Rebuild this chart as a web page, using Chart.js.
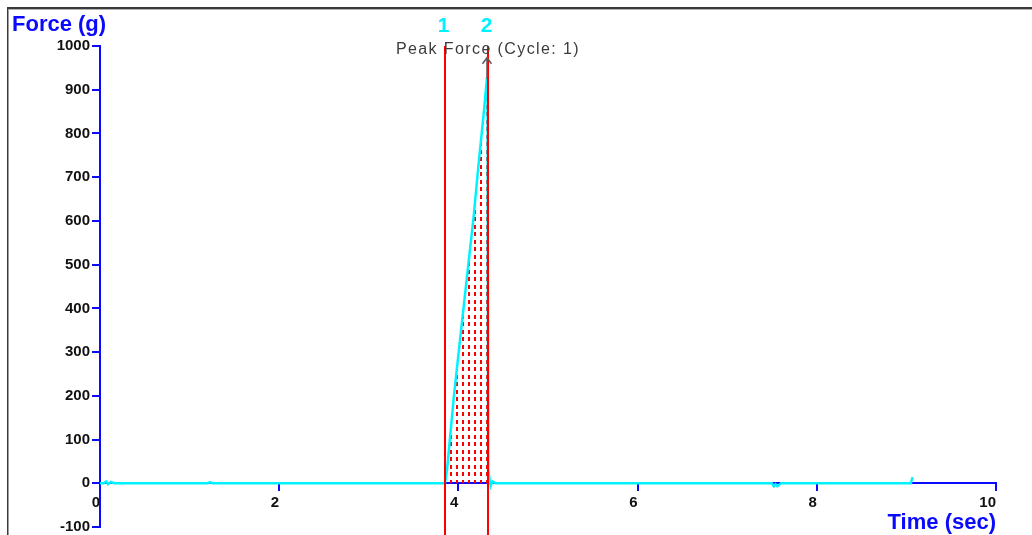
<!DOCTYPE html>
<html>
<head>
<meta charset="utf-8">
<script src="https://cdn.jsdelivr.net/npm/chart.js@4.4.1/dist/chart.umd.min.js"></script>
<style>
  html, body { margin: 0; padding: 0; background: #ffffff; overflow: hidden; }
  #wrap { width: 1032px; height: 535px; position: relative; }
</style>
</head>
<body>
<div id="wrap"><canvas id="forceChart" width="1032" height="535"></canvas></div>
<script>
// Force trace (g) against time (sec)
const timeSec = [0, 0.04, 0.07, 0.09, 0.12, 0.16, 1.2, 1.23, 1.26, 2.5, 3.0, 3.5, 3.85,
  3.873, 3.95, 4.03, 4.1, 4.17, 4.23, 4.28, 4.318, 4.325, 4.333, 4.345, 4.36, 4.38, 4.42,
  4.5, 5.0, 6.0, 7.0, 7.5, 7.52, 7.54, 7.56, 7.6, 8.0, 8.5, 9.0, 9.05, 9.06, 9.07];
const forceG = [0, 0, 4, -2, 3, 0, 0, 2, 0, 0, 0, 0, 0,
  30, 200, 350, 480, 610, 740, 840, 925, 925, 0, 14, -6, 4, 0,
  0, 0, 0, 0, 0, -7, -2, -7, 0, 0, 0, 0, 0, 8, 14];

// Analysis cursors and peak marker
const cursorTimes = [3.85, 4.325];
const cursorNames = ['1', '2'];
const peakTime = 4.318;
const peakForce = 925;
const peakText = 'Peak Force (Cycle: 1)';

// Axis ranges
const yMin = -100, yMax = 1000, yStep = 100;
const xMin = 0, xMax = 10, xStep = 2;
const yTitle = 'Force (g)';
const xTitle = 'Time (sec)';

const BLUE = '#0a0aff';
const CYAN = '#00f2ff';
const RED = '#ff0000';

// Points of the trace and the region between the cursors
const tracePoints = timeSec.map((t, i) => ({ x: t, y: forceG[i] }));
const areaPoints = tracePoints.filter(p => p.x >= cursorTimes[0] && p.x <= cursorTimes[1]);

// Red dotted hatch used for the area between cursors
function dottedPattern() {
  const c = document.createElement('canvas');
  c.width = 6; c.height = 15;
  const g = c.getContext('2d');
  g.fillStyle = RED;
  g.fillRect(0, 0, 2, 4);
  g.fillRect(0, 7, 2, 4);
  return g.createPattern(c, 'repeat');
}

const decorations = {
  id: 'decorations',
  beforeDraw(chart) {
    const ctx = chart.ctx;
    ctx.save();
    ctx.fillStyle = '#ffffff';
    ctx.fillRect(0, 0, chart.width, chart.height);
    // window frame
    ctx.fillStyle = '#3a3a3a';
    ctx.fillRect(7, 7, chart.width - 7, 2);
    ctx.fillRect(7, 7, 1.5, chart.height - 7);
    ctx.fillStyle = '#b0b0b0';
    ctx.fillRect(9, 9, chart.width - 9, 1);
    ctx.restore();
  },
  afterDraw(chart) {
    const ctx = chart.ctx;
    const xs = chart.scales.x, ys = chart.scales.y;
    const top = chart.chartArea.top;
    ctx.save();

    // cursors
    ctx.strokeStyle = RED;
    ctx.lineWidth = 2;
    cursorTimes.forEach((t, i) => {
      const px = Math.round(xs.getPixelForValue(t));
      ctx.beginPath();
      ctx.moveTo(px, top);
      ctx.lineTo(px, chart.height);
      ctx.stroke();
      ctx.fillStyle = CYAN;
      ctx.font = 'bold 21px "Liberation Sans", Arial, sans-serif';
      ctx.textAlign = 'center';
      ctx.textBaseline = 'alphabetic';
      ctx.fillText(cursorNames[i], px - 1.5, 32);
    });

    // peak marker
    const pkx = Math.round(xs.getPixelForValue(peakTime));
    const pky = ys.getPixelForValue(peakForce);
    ctx.strokeStyle = '#5a5a5a';
    ctx.lineWidth = 1.5;
    ctx.beginPath();
    ctx.moveTo(pkx, pky);
    ctx.lineTo(pkx, pky - 21);
    ctx.moveTo(pkx - 4.5, pky - 15);
    ctx.lineTo(pkx, pky - 21);
    ctx.lineTo(pkx + 4.5, pky - 15);
    ctx.stroke();

    ctx.fillStyle = '#3c3c3c';
    ctx.font = '16px "Liberation Sans", Arial, sans-serif';
    ctx.letterSpacing = '1.4px';
    ctx.textAlign = 'center';
    ctx.textBaseline = 'alphabetic';
    ctx.fillText(peakText, pkx + 1, 54);
    ctx.letterSpacing = '0px';

    // axis titles
    ctx.fillStyle = BLUE;
    ctx.font = 'bold 22px "Liberation Sans", Arial, sans-serif';
    ctx.textAlign = 'left';
    ctx.fillText(yTitle, 12, 31);
    ctx.textAlign = 'right';
    ctx.fillText(xTitle, xs.getPixelForValue(xMax), 529);
    ctx.restore();
  }
};

const tickFont = { family: '"Liberation Sans", Arial, sans-serif', size: 15, weight: 'bold' };

new Chart(document.getElementById('forceChart'), {
  type: 'line',
  data: {
    datasets: [
      {
        label: 'area',
        data: areaPoints,
        borderWidth: 0,
        pointRadius: 0,
        backgroundColor: dottedPattern(),
        fill: 'origin',
        order: 2
      },
      {
        label: 'force',
        data: tracePoints,
        borderColor: CYAN,
        borderWidth: 2.5,
        pointRadius: 0,
        tension: 0,
        fill: false,
        order: 1
      }
    ]
  },
  options: {
    responsive: false,
    devicePixelRatio: 1,
    animation: false,
    events: [],
    layout: { padding: { left: 0, top: 46, right: 36, bottom: 8 } },
    plugins: { legend: { display: false }, tooltip: { enabled: false }, title: { display: false } },
    scales: {
      x: {
        type: 'linear',
        min: xMin, max: xMax,
        position: { y: 0 },
        afterFit(scale) { scale.paddingLeft = 0; scale.paddingRight = 0; },
        ticks: {
          stepSize: xStep,
          color: '#111111',
          font: tickFont,
          align: 'end',
          padding: 4,
          maxRotation: 0,
          callback: v => String(v)
        },
        grid: { drawOnChartArea: false, drawTicks: true, tickLength: 7, color: BLUE, lineWidth: 2 },
        border: { display: true, color: BLUE, width: 2 }
      },
      y: {
        type: 'linear',
        min: yMin, max: yMax,
        position: 'left',
        afterFit(scale) { scale.width = 100; scale.paddingTop = 0; scale.paddingBottom = 0; },
        ticks: {
          stepSize: yStep,
          color: '#111111',
          font: tickFont,
          padding: 2,
          callback: v => String(v)
        },
        grid: { drawOnChartArea: false, drawTicks: true, tickLength: 8, color: BLUE, lineWidth: 2 },
        border: { display: true, color: BLUE, width: 2 }
      }
    }
  },
  plugins: [decorations]
});
</script>
</body>
</html>
